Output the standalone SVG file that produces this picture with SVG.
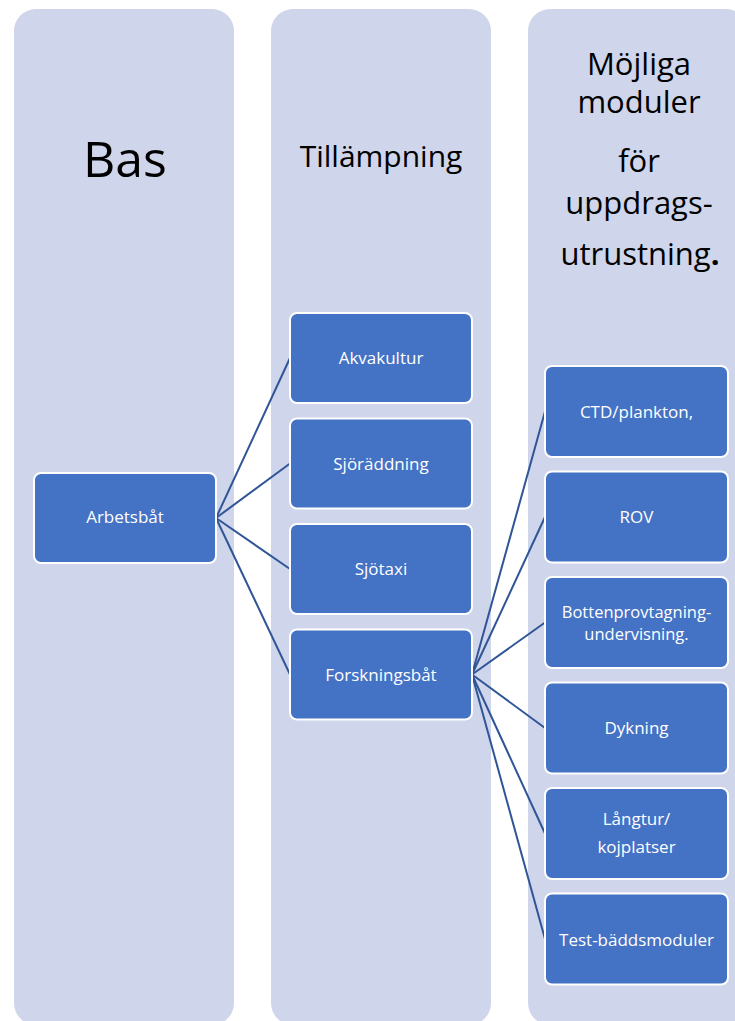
<svg xmlns="http://www.w3.org/2000/svg" width="735" height="1021" viewBox="0 0 735 1021">
  <style>
    .col { fill: #CFD5EA; }
    .node { fill: #4472C4; stroke: #FFFFFF; stroke-width: 2; }
    .lbl { font-family: "Open Sans", "Liberation Sans", sans-serif; font-size: 17px; fill: #FFFFFF; text-anchor: middle; }
    .lbl2 { font-size: 16.5px; }
    .head { font-family: "Open Sans", "Liberation Sans", sans-serif; fill: #000000; text-anchor: middle; }
    .edge { stroke: #2F5597; stroke-width: 2; fill: none; }
  </style>
  <rect width="735" height="1021" fill="#FFFFFF"/>

  <!-- background columns -->
  <g id="columns">
    <rect id="col-bas" class="col" x="14" y="9" width="220" height="1016" rx="22"/>
    <rect id="col-tillampning" class="col" x="271" y="9" width="220" height="1016" rx="22"/>
    <rect id="col-moduler" class="col" x="528" y="9" width="220" height="1016" rx="22"/>
  </g>

  <!-- column headings -->
  <g id="headings">
    <text class="head" x="125" y="177" font-size="50">Bas</text>
    <text class="head" x="381" y="167" font-size="30">Tillämpning</text>
    <text class="head" x="639" y="75" font-size="31">Möjliga</text>
    <text class="head" x="639" y="113" font-size="31">moduler</text>
    <text class="head" x="639" y="172" font-size="31">för</text>
    <text class="head" x="639" y="214" font-size="31">uppdrags-</text>
    <text class="head" x="640" y="265" font-size="31">utrustning<tspan font-weight="bold">.</tspan></text>
  </g>

  <!-- connectors -->
  <g id="connectors">
    <line class="edge" x1="216" y1="518" x2="290" y2="358"/>
    <line class="edge" x1="216" y1="518" x2="290" y2="463.5"/>
    <line class="edge" x1="216" y1="518" x2="290" y2="569"/>
    <line class="edge" x1="216" y1="518" x2="290" y2="674.5"/>
    <line class="edge" x1="472" y1="674.5" x2="545" y2="411.5"/>
    <line class="edge" x1="472" y1="674.5" x2="545" y2="517"/>
    <line class="edge" x1="472" y1="674.5" x2="545" y2="622.5"/>
    <line class="edge" x1="472" y1="674.5" x2="545" y2="728"/>
    <line class="edge" x1="472" y1="674.5" x2="545" y2="833.5"/>
    <line class="edge" x1="472" y1="674.5" x2="545" y2="939"/>
  </g>

  <!-- base -->
  <g id="n-arbetsbat">
    <rect class="node" x="34" y="473" width="182" height="90" rx="7"/>
    <text class="lbl" x="125" y="523">Arbetsbåt</text>
  </g>

  <!-- applications -->
  <g id="n-akvakultur">
    <rect class="node" x="290" y="313" width="182" height="90" rx="7"/>
    <text class="lbl" x="381" y="364">Akvakultur</text>
  </g>
  <g id="n-sjoraddning">
    <rect class="node" x="290" y="418.5" width="182" height="90" rx="7"/>
    <text class="lbl" x="381" y="469.5">Sjöräddning</text>
  </g>
  <g id="n-sjotaxi">
    <rect class="node" x="290" y="524" width="182" height="90" rx="7"/>
    <text class="lbl" x="381" y="575">Sjötaxi</text>
  </g>
  <g id="n-forskningsbat">
    <rect class="node" x="290" y="629.5" width="182" height="90" rx="7"/>
    <text class="lbl" x="381" y="680.5">Forskningsbåt</text>
  </g>

  <!-- modules -->
  <g id="n-ctd">
    <rect class="node" x="545" y="366" width="183" height="91" rx="7"/>
    <text class="lbl" x="636.5" y="418">CTD/plankton,</text>
  </g>
  <g id="n-rov">
    <rect class="node" x="545" y="471.5" width="183" height="91" rx="7"/>
    <text class="lbl" x="636.5" y="523">ROV</text>
  </g>
  <g id="n-bottenprov">
    <rect class="node" x="545" y="577" width="183" height="91" rx="7"/>
    <text class="lbl lbl2" x="636.5" y="618">Bottenprovtagning-</text>
    <text class="lbl lbl2" x="636.5" y="640">undervisning.</text>
  </g>
  <g id="n-dykning">
    <rect class="node" x="545" y="682.5" width="183" height="91" rx="7"/>
    <text class="lbl" x="636.5" y="734">Dykning</text>
  </g>
  <g id="n-langtur">
    <rect class="node" x="545" y="788" width="183" height="91" rx="7"/>
    <text class="lbl" x="636.5" y="825">Långtur/</text>
    <text class="lbl" x="636.5" y="852.5">kojplatser</text>
  </g>
  <g id="n-testbadd">
    <rect class="node" x="545" y="893.5" width="183" height="91" rx="7"/>
    <text class="lbl" x="636.5" y="945.5">Test-bäddsmoduler</text>
  </g>
</svg>
